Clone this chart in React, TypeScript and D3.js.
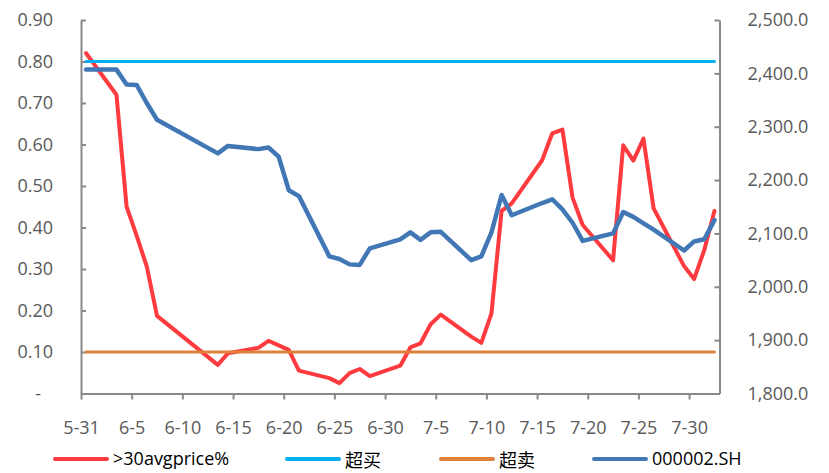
import React, { useRef, useEffect } from "react";
import * as d3 from "d3";

// trading days, 2013
const dates = [
  "2013-05-31", "2013-06-03", "2013-06-04", "2013-06-05", "2013-06-06", "2013-06-07",
  "2013-06-13", "2013-06-14",
  "2013-06-17", "2013-06-18", "2013-06-19", "2013-06-20", "2013-06-21",
  "2013-06-24", "2013-06-25", "2013-06-26", "2013-06-27", "2013-06-28",
  "2013-07-01", "2013-07-02", "2013-07-03", "2013-07-04", "2013-07-05",
  "2013-07-08", "2013-07-09", "2013-07-10", "2013-07-11", "2013-07-12",
  "2013-07-15", "2013-07-16", "2013-07-17", "2013-07-18", "2013-07-19",
  "2013-07-22", "2013-07-23", "2013-07-24", "2013-07-25", "2013-07-26",
  "2013-07-29", "2013-07-30", "2013-07-31", "2013-08-01",
];

// share of stocks above their 30-day average price
const above30 = [
  0.82, 0.72, 0.45, 0.38, 0.305, 0.187,
  0.069, 0.097,
  0.11, 0.127, 0.116, 0.105, 0.055,
  0.037, 0.025, 0.049, 0.059, 0.042,
  0.067, 0.111, 0.121, 0.167, 0.19,
  0.137, 0.122, 0.193, 0.44, 0.458,
  0.562, 0.627, 0.636, 0.472, 0.406,
  0.321, 0.598, 0.561, 0.614, 0.446,
  0.307, 0.276, 0.346, 0.44,
];

// 000002.SH close
const indexClose = [
  2407, 2407, 2379, 2378, 2344, 2313,
  2250, 2264,
  2258, 2261, 2244, 2181, 2170,
  2057, 2052, 2042, 2041, 2072,
  2089, 2102, 2088, 2102, 2103,
  2050, 2057, 2102, 2172, 2134,
  2157, 2164, 2145, 2120, 2086,
  2100, 2140, 2131, 2119, 2107,
  2068, 2085, 2089, 2125,
];

const overBought = 0.8;
const overSold = 0.1;

const leftTicks = [0, 0.1, 0.2, 0.3, 0.4, 0.5, 0.6, 0.7, 0.8, 0.9];
const rightTicks = [1800, 1900, 2000, 2100, 2200, 2300, 2400, 2500];
const xTicks = [
  "2013-05-31", "2013-06-05", "2013-06-10", "2013-06-15", "2013-06-20", "2013-06-25",
  "2013-06-30", "2013-07-05", "2013-07-10", "2013-07-15", "2013-07-20", "2013-07-25",
  "2013-07-30",
];

const seriesNames = [">30avgprice%", "超买", "超卖", "000002.SH"];
const seriesColors = ["#FF3B3F", "#00B0F0", "#E0813A", "#4177B5"];

const width = 829;
const height = 473;
const latinFont = "'Open Sans', 'Liberation Sans', sans-serif";
const cjkFont = "'Noto Sans CJK SC', sans-serif";

const App: React.FC = () => {
  const svgRef = useRef<SVGSVGElement>(null);

  useEffect(() => {
    if (!svgRef.current) return;
    const svg = d3.select(svgRef.current);
    svg.selectAll("*").remove();

    const plot = { left: 81, right: 719.5, top: 20, bottom: 393.5 };
    const parse = d3.utcParse("%Y-%m-%d");
    const days = dates.map((d) => parse(d)!);
    const half = 12 * 3600 * 1000;

    const x = d3
      .scaleUtc()
      .domain([parse("2013-05-31")!, parse("2013-08-02")!])
      .range([plot.left, plot.right]);
    const yL = d3.scaleLinear().domain([0, 0.9]).range([plot.bottom, plot.top]);
    const yR = d3.scaleLinear().domain([1800, 2500]).range([plot.bottom, plot.top]);
    const px = (i: number) => x(new Date(days[i].getTime() + half));

    const axisColor = "#898989";
    const labelColor = "#595959";

    // left axis
    const gl = svg
      .append("g")
      .attr("transform", `translate(${plot.left},0)`)
      .call(
        d3
          .axisLeft(yL)
          .tickValues(leftTicks)
          .tickSize(-5)
          .tickSizeOuter(0)
          .tickPadding(28)
          .tickFormat((d) => (+d === 0 ? "-" : d3.format(".2f")(+d)))
      );
    gl.selectAll("text").filter((d) => +d === 0).attr("dx", "-12");

    // right axis
    const gr = svg
      .append("g")
      .attr("transform", `translate(${plot.right},0)`)
      .call(
        d3
          .axisRight(yR)
          .tickValues(rightTicks)
          .tickSize(-5)
          .tickSizeOuter(0)
          .tickPadding(28)
          .tickFormat((d) => d3.format(",.1f")(+d))
      );

    // bottom axis
    const gb = svg
      .append("g")
      .attr("transform", `translate(0,${plot.bottom})`)
      .call(
        d3
          .axisBottom(x)
          .tickValues(xTicks.map((d) => parse(d)!))
          .tickSize(6)
          .tickSizeOuter(0)
          .tickPadding(22)
          .tickFormat((d) => d3.utcFormat("%-m-%-d")(d as Date))
      );

    [gl, gr, gb].forEach((g) => {
      g.selectAll("path").attr("stroke", axisColor).attr("stroke-width", 2);
      g.selectAll("line").attr("stroke", axisColor).attr("stroke-width", 2);
      g.selectAll("text")
        .attr("fill", labelColor)
        .style("font-family", latinFont)
        .style("font-size", "18px");
    });

    const line = (ys: (i: number) => number) =>
      d3
        .line<number>()
        .x((i) => px(i))
        .y((i) => ys(i));

    const idx = dates.map((_, i) => i);
    const draw = (ys: (i: number) => number, color: string, w: number) =>
      svg
        .append("path")
        .datum(idx)
        .attr("d", line(ys))
        .attr("fill", "none")
        .attr("stroke", color)
        .attr("stroke-width", w)
        .attr("stroke-linejoin", "round")
        .attr("stroke-linecap", "round");

    draw((i) => yL(above30[i]), seriesColors[0], 4);
    draw(() => yL(overBought), seriesColors[1], 3);
    draw(() => yL(overSold), seriesColors[2], 3);
    draw((i) => yR(indexClose[i]), seriesColors[3], 4.5);

    // legend
    const legendX = [55, 287, 441, 594];
    const legendY = 459;
    seriesNames.forEach((name, i) => {
      const lx = legendX[i];
      svg
        .append("line")
        .attr("x1", lx)
        .attr("x2", lx + 52)
        .attr("y1", legendY)
        .attr("y2", legendY)
        .attr("stroke", seriesColors[i])
        .attr("stroke-width", 4)
        .attr("stroke-linecap", "round");
      const cjk = /[\u4e00-\u9fff]/.test(name);
      svg
        .append("text")
        .attr("x", lx + 58)
        .attr("y", cjk ? 467 : 465)
        .attr("fill", "#000")
        .style("font-family", cjk ? cjkFont : latinFont)
        .style("font-size", "18px")
        .text(name);
    });
  }, []);

  return (
    <svg
      ref={svgRef}
      width={width}
      height={height}
      style={{ position: "absolute", left: 0, top: 0, background: "#fff" }}
    />
  );
};

export default App;
